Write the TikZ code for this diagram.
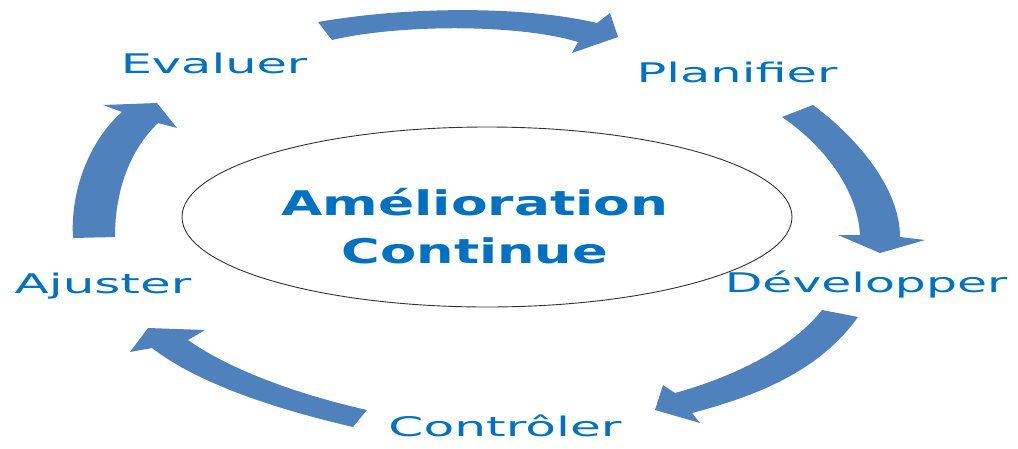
\documentclass[tikz,border=0pt]{standalone}
\usepackage{graphicx}
\usepackage{fontspec}
\setmainfont{DejaVu Sans}
\usetikzlibrary{shapes.geometric}
\definecolor{arrowblue}{HTML}{4F81BD}
\definecolor{textblue}{HTML}{0070C0}
\begin{document}
\begin{tikzpicture}[x=1pt,y=-1pt,
  blockarrow/.style={fill=arrowblue,draw=none},
  steplabel/.style={text=textblue,inner sep=0pt,anchor=base,font=\fontsize{27}{27}\selectfont},
  hubtext/.style={text=textblue,inner sep=0pt,anchor=base,font=\fontsize{34}{34}\selectfont\bfseries},
  hub/.style={draw=black!80,line width=0.9pt,ellipse,inner sep=0pt,minimum width=610pt,minimum height=180pt}]
\useasboundingbox (0,0) rectangle (1018,448);
% center ellipse
\node[hub] (ell) at (487,217) {};
\node[hubtext] (ame) at (475,215) {\scalebox{1.57}[1]{Amélioration}};
\node[hubtext] (cont) at (475,263) {\scalebox{1.55}[1]{Continue}};
% labels
\node[steplabel] (eval) at (214,73) {\scalebox{1.83}[1]{Evaluer}};
\node[steplabel] (plan) at (737,82) {\scalebox{1.83}[1]{Planifier}};
\node[steplabel] (dev) at (866,292) {\scalebox{1.81}[1]{Développer}};
\node[steplabel] (ajus) at (103,293) {\scalebox{1.85}[1]{Ajuster}};
\node[steplabel] (ctrl) at (505,436) {\scalebox{1.86}[1]{Contrôler}};
% arrow 1: top
\fill[blockarrow] (318,22) .. controls (410,6) and (525,6) .. (597,23)
  -- (610,13) -- (618,37) -- (572,53) -- (578,42)
  .. controls (520,24) and (400,24) .. (332,40) -- cycle;
% arrow 2: right
\fill[blockarrow] (813,105) .. controls (860,140) and (900,190) .. (900,237)
  -- (925,240) -- (880,253) -- (838,235) -- (860,235)
  .. controls (858,195) and (830,150) .. (782,117) -- cycle;
% arrow 3: bottom right
\fill[blockarrow] (858,317) .. controls (820,370) and (760,395) .. (692,413)
  -- (700,423) -- (655,410) -- (663,385) -- (675,393)
  .. controls (740,375) and (795,345) .. (822,310) -- cycle;
% arrow 4: bottom left
\fill[blockarrow] (353,427) .. controls (280,410) and (200,385) .. (152,348)
  -- (130,352) -- (148,328) -- (205,330) -- (188,340)
  .. controls (230,370) and (300,395) .. (367,410) -- cycle;
% arrow 5: left
\fill[blockarrow] (73,238) .. controls (70,190) and (90,140) .. (122,112)
  -- (103,105) -- (157,103) -- (177,128) -- (158,123)
  .. controls (130,150) and (115,190) .. (115,237) -- cycle;
\end{tikzpicture}
\end{document}
